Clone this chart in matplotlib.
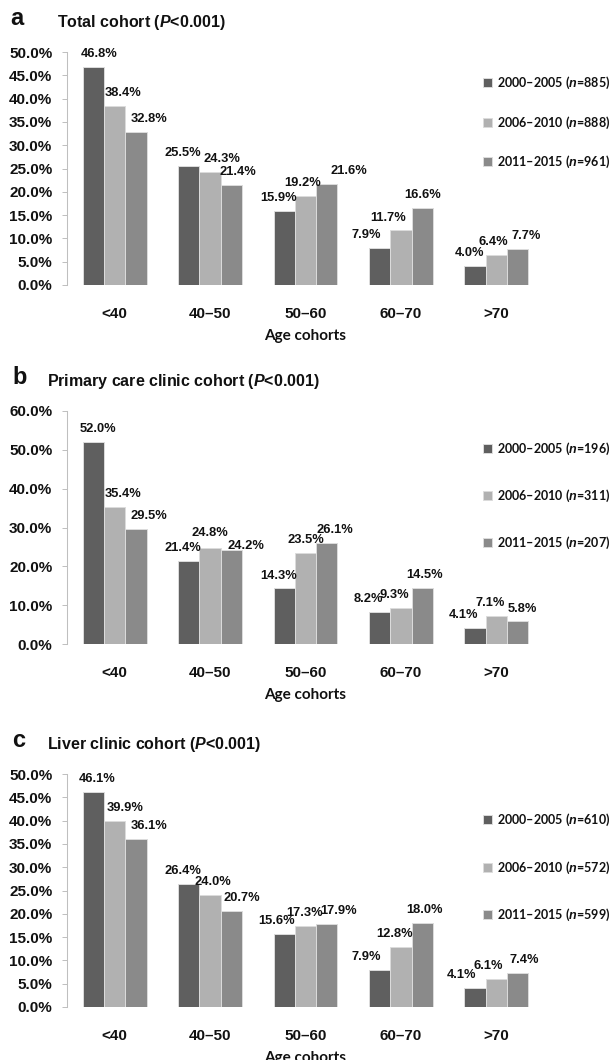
import numpy as np
import matplotlib
matplotlib.use("Agg")
import matplotlib.pyplot as plt
from matplotlib.patches import Patch

plt.rcParams['mathtext.fontset'] = 'custom'
plt.rcParams['mathtext.it'] = 'Liberation Sans:italic:bold'
plt.rcParams['mathtext.rm'] = 'Liberation Sans:bold'

# data (percent)
age_groups = ['<40', '40–50', '50–60', '60–70', '>70']
periods = ['2000–2005', '2006–2010', '2011–2015']

total_n = [885, 888, 961]
total_00_05 = [46.8, 25.5, 15.9, 7.9, 4.0]
total_06_10 = [38.4, 24.3, 19.2, 11.7, 6.4]
total_11_15 = [32.8, 21.4, 21.6, 16.6, 7.7]

primary_n = [196, 311, 207]
primary_00_05 = [52.0, 21.4, 14.3, 8.2, 4.1]
primary_06_10 = [35.4, 24.8, 23.5, 9.3, 7.1]
primary_11_15 = [29.5, 24.2, 26.1, 14.5, 5.8]

liver_n = [610, 572, 599]
liver_00_05 = [46.1, 26.4, 15.6, 7.9, 4.1]
liver_06_10 = [39.9, 24.0, 17.3, 12.8, 6.1]
liver_11_15 = [36.1, 20.7, 17.9, 18.0, 7.4]

colores = ['#5f5f5f', '#b1b1b1', '#8a8a8a']
txt = '#111111'

# nudges of the value labels (pixels), like the manual placement in the original
nudge_a = [[6, -6, -6, -13, -6], [8, 12, -3, -13, -3], [13, 7, 22, 0, 9]]
nudge_b = [[5, -6, -6, -11, -12], [8, 0, 0, -7, -6], [13, 15, 8, 2, 5]]
nudge_c = [[4, -6, -8, -13, -14], [10, 3, -1, -6, -8], [13, 10, 12, 2, 7]]
lift_b = [[0, 0, 0, 0, 0], [0, 2, 0, 0, 0], [0, -9, 0, 0, 0]]
lift_0 = [[0] * 5 for _ in range(3)]

arial = ['Liberation Sans', 'DejaVu Sans']
cal = ['Lato', 'DejaVu Sans']

W, H = 615, 1060
fig = plt.figure(figsize=(W / 100, H / 100), dpi=100)


def panel(top_px, letter, letter_x, titulo, title_x, series, ns, ymax, ystep, nudges, lifts, leg_y, leg_gap):
    bottom_px = top_px + 233
    ax = fig.add_axes([67 / W, 1 - bottom_px / H, 477 / W, 233 / H])
    x = np.arange(len(age_groups))
    w = 0.223
    for i, vals in enumerate(series):
        pos = x + (i - 1) * w
        ax.bar(pos, vals, w, color=colores[i], edgecolor='#dcdcdc', linewidth=0.7)
        for j, v in enumerate(vals):
            ax.annotate(f'{v:.1f}%', (pos[j], v),
                        xytext=(nudges[i][j] * 0.72, 5 + lifts[i][j] * 0.72),
                        textcoords='offset points', ha='center', va='bottom',
                        fontsize=9.3, fontweight='bold', family=arial, color=txt)
    ax.set_xlim(-0.5, 4.5)
    ax.set_ylim(0, ymax)
    ticks = np.arange(0, ymax + 0.01, ystep)
    ax.set_yticks(ticks)
    ax.set_yticklabels([f'{t:.1f}%' for t in ticks],
                       fontsize=11, fontweight='bold', family=arial, color=txt)
    ax.set_xticks(x)
    ax.set_xticklabels(age_groups, fontsize=11, fontweight='bold', family=arial, color=txt)
    ax.tick_params(axis='x', length=0, pad=16)
    ax.tick_params(axis='y', length=3.6, width=0.7, color='#bfbfbf', pad=7)
    for s in ['top', 'right', 'bottom']:
        ax.spines[s].set_visible(False)
    ax.spines['left'].set_color('#bfbfbf')
    ax.spines['left'].set_linewidth(0.75)
    ax.text(0.5, -51 / 233, 'Age cohorts', transform=ax.transAxes, ha='center', va='center',
            fontsize=11, fontweight='bold', family=cal, color=txt)

    fig.text(letter_x / W, 1 - (top_px - 27) / H, letter, fontsize=17, fontweight='bold',
             family=arial, color=txt, va='baseline')
    fig.text(title_x / W, 1 - (top_px - 25) / H, titulo, fontsize=11.5, fontweight='bold',
             family=arial, color=txt, va='baseline')

    handles = [Patch(facecolor=colores[i], edgecolor='#dcdcdc', linewidth=0.7) for i in range(3)]
    labels = [f'{periods[i]} ($\\mathit{{n}}$={ns[i]})' for i in range(3)]
    leg = fig.legend(handles, labels, loc='upper left',
                     bbox_to_anchor=(483 / W, 1 - (leg_y - 8) / H),
                     bbox_transform=fig.transFigure, frameon=False, borderpad=0,
                     borderaxespad=0, handlelength=0.75, handleheight=0.75,
                     handletextpad=0.4, labelspacing=leg_gap,
                     prop={'family': cal, 'weight': 'bold', 'size': 9})
    for t in leg.get_texts():
        t.set_color(txt)
    return ax


panel(52, 'a', 10, 'Total cohort ($\\mathit{P}$<0.001)', 57,
      [total_00_05, total_06_10, total_11_15], total_n, 50, 5, nudge_a, lift_0, 83, 1.85)
panel(411, 'b', 12, 'Primary care clinic cohort ($\\mathit{P}$<0.001)', 47,
      [primary_00_05, primary_06_10, primary_11_15], primary_n, 60, 10, nudge_b, lift_b, 449, 2.45)
panel(774, 'c', 12, 'Liver clinic cohort ($\\mathit{P}$<0.001)', 47,
      [liver_00_05, liver_06_10, liver_11_15], liver_n, 50, 5, nudge_c, lift_0, 820, 2.5)

fig.savefig('out.png', dpi=100)
